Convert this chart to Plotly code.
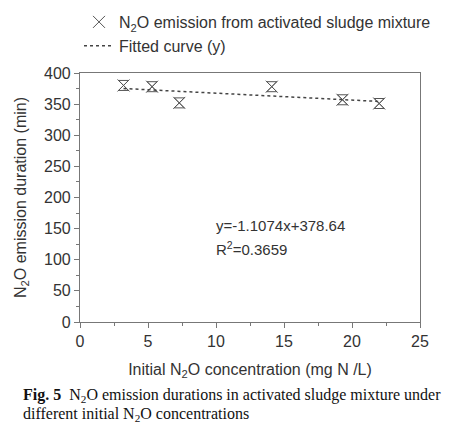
import plotly.graph_objects as go

conc = [3.2, 5.3, 7.3, 14.1, 19.3, 22.0]
duration = [380, 378, 352, 378, 357, 351]
slope = -1.1074
intercept = 378.64
fit_x = [3.2, 22.0]
fit_y = [slope * v + intercept for v in fit_x]

W, H = 474, 435
OFF = 8  # page body margin
L, R, T, B = 80 - OFF, 420 - OFF, 73 - OFF, 322 - OFF


def px(xp):
    return (xp - OFF - L) / (R - L)


def py(yp):
    return (B - (yp - OFF)) / (B - T)


fig = go.Figure()
fig.add_trace(go.Scatter(
    x=conc, y=duration, mode="markers",
    name="N<sub>2</sub>O emission from activated sludge mixture",
    marker=dict(symbol="x-thin-open", size=12, color="#555",
                line=dict(width=1, color="#555")),
))
fig.add_trace(go.Scatter(
    x=conc, y=duration, mode="markers", showlegend=False, hoverinfo="skip",
    marker=dict(symbol="hourglass-open", size=10, color="#555",
                line=dict(width=1, color="#555")),
))
fig.add_trace(go.Scatter(
    x=fit_x, y=fit_y, mode="lines", name="Fitted curve (y)",
    line=dict(color="#444", width=1.5, dash="dot"),
))

axis_common = dict(
    showline=True, linecolor="#777", linewidth=1.2, mirror=True, automargin=False,
    ticks="outside", ticklen=5, tickcolor="#777", showgrid=False, zeroline=False,
    tickfont=dict(family="Liberation Sans, Arial", size=16, color="#333"),
    minor=dict(ticks="outside", ticklen=3, tickcolor="#777"),
)

fig.update_layout(
    width=W, height=H,
    paper_bgcolor="white", plot_bgcolor="white",
    margin=dict(l=L, r=W - R, t=T, b=H - B, autoexpand=False),
    font=dict(family="Liberation Sans, Arial", color="#333", size=16),
    xaxis=dict(range=[0, 25], dtick=5, tick0=0,
               title=dict(text="Initial N<sub>2</sub>O concentration (mg N /L)",
                          font=dict(size=16, color="#333"), standoff=14),
               **axis_common),
    yaxis=dict(range=[0, 400], dtick=50, tick0=0,
               title=dict(text="N<sub>2</sub>O emission duration (min)",
                          font=dict(size=16, color="#333"), standoff=13),
               **axis_common),
    legend=dict(x=px(79), y=py(5), xanchor="left", yanchor="top",
                bgcolor="rgba(0,0,0,0)", font=dict(size=16, color="#333"),
                tracegroupgap=0, itemwidth=30),
    showlegend=True,
)
fig.update_xaxes(minor=dict(dtick=2.5))
fig.update_yaxes(minor=dict(dtick=25))

fig.add_annotation(x=px(214), y=py(225), xref="paper", yref="paper",
                   xanchor="left", yanchor="middle",
                   text="y=-1.1074x+378.64", showarrow=False,
                   font=dict(size=15, color="#333"))
fig.add_annotation(x=px(214), y=py(248), xref="paper", yref="paper",
                   xanchor="left", yanchor="middle",
                   text="R<sup>2</sup>=0.3659", showarrow=False,
                   font=dict(size=15, color="#333"))

cap_font = dict(family="Liberation Serif, Times New Roman", size=16, color="#111")
fig.add_annotation(x=px(21), y=py(395), xref="paper", yref="paper",
                   xanchor="left", yanchor="middle", showarrow=False, align="left",
                   text="<b>Fig. 5</b>  N<sub>2</sub>O emission durations in activated sludge mixture under",
                   font=cap_font)
fig.add_annotation(x=px(21), y=py(414), xref="paper", yref="paper",
                   xanchor="left", yanchor="middle", showarrow=False, align="left",
                   text="different initial N<sub>2</sub>O concentrations",
                   font=cap_font)

fig.write_html("out.html")
